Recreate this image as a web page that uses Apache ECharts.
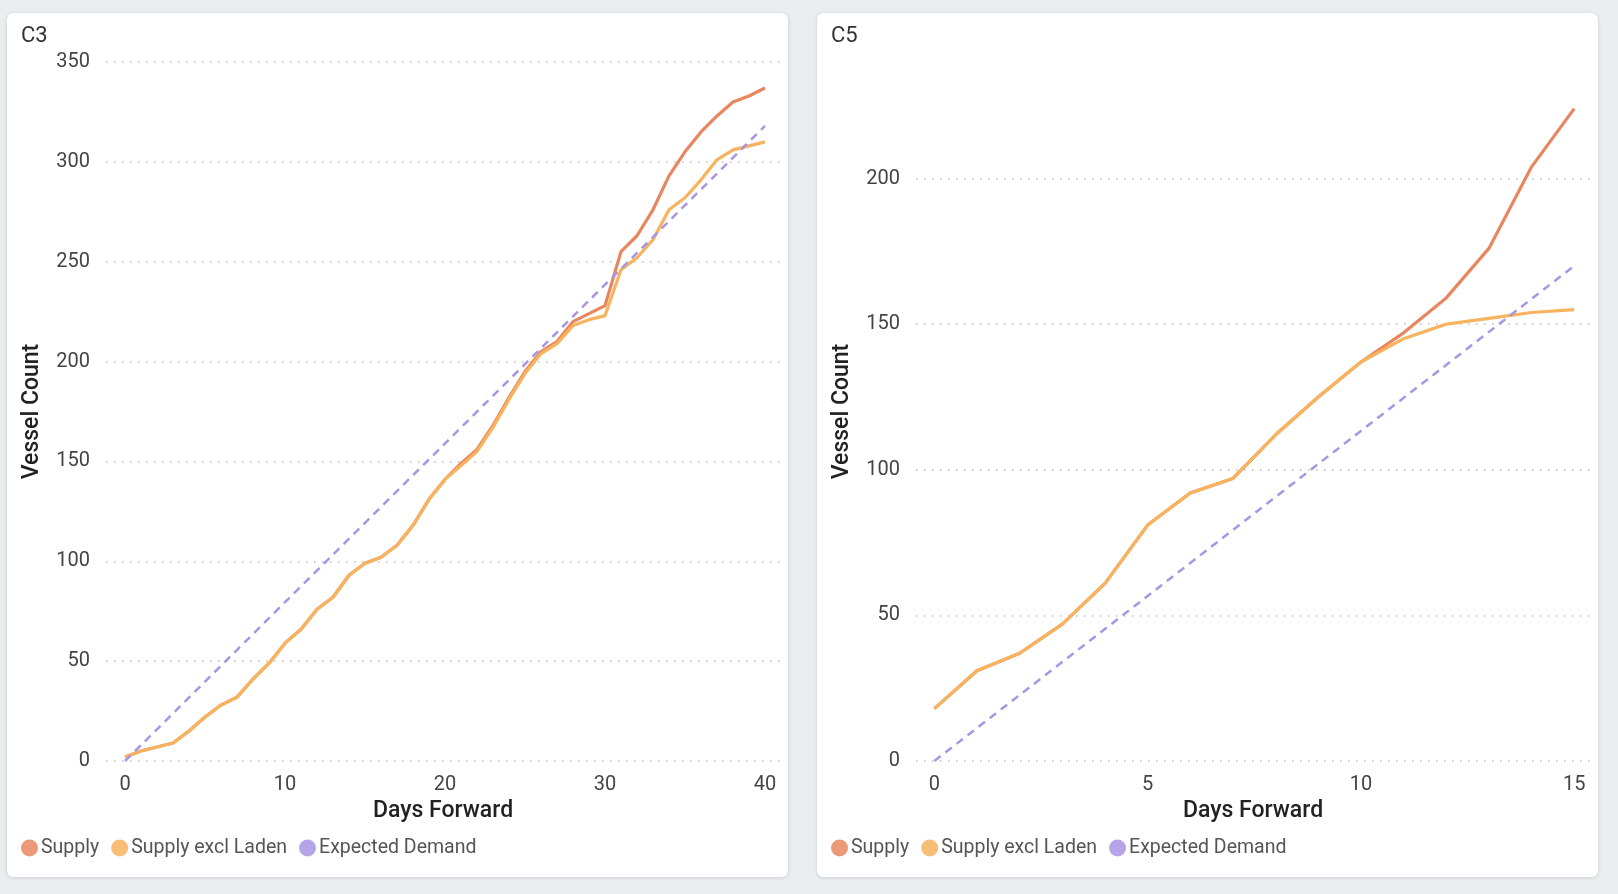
<!DOCTYPE html>
<html>
<head>
<meta charset="utf-8">
<title>Supply vs Demand</title>
<style>
  html, body { margin: 0; padding: 0; width: 1618px; height: 894px; background: #eaedf0; overflow: hidden; }
  .card {
    position: absolute; top: 13px; width: 781px; height: 864px;
    background: #fff; border-radius: 6px;
    box-shadow: 0 1px 4px rgba(0,0,0,0.10), 0 0 1px rgba(0,0,0,0.15);
  }
  #c3 { left: 7px; }
  #c5 { left: 817px; }
</style>
</head>
<body>
<div class="card" id="c3"></div>
<div class="card" id="c5"></div>
<script src="https://cdn.jsdelivr.net/npm/echarts@6/dist/echarts.min.js"></script>
<script>
// ---- C3 data (days 0..40) ----
var c3Days = [0,1,2,3,4,5,6,7,8,9,10,11,12,13,14,15,16,17,18,19,20,
              21,22,23,24,25,26,27,28,29,30,31,32,33,34,35,36,37,38,39,40];
var c3Supply = [2,5,7,9,15,22,28,32,41,49,59,66,76,82,93,99,102,108,118,131,141,
                149,156,168,182,195,205,210,220,224,228,255,263,276,293,305,315,323,330,333,337];
var c3ExclLaden = [2,5,7,9,15,22,28,32,41,49,59,66,76,82,93,99,102,108,118,131,141,
                   148,155,167,181,194,204,209,218,221,223,246,252,261,276,282,291,301,306,308,310];
var c3DemandDays = [0,40];
var c3Demand = [0,318];

// ---- C5 data (days 0..15) ----
var c5Days = [0,1,2,3,4,5,6,7,8,9,10,11,12,13,14,15];
var c5Supply = [18,31,37,47,61,81,92,97,112,125,137,147,159,176,204,224];
var c5ExclLaden = [18,31,37,47,61,81,92,97,112,125,137,145,150,152,154,155];
var c5DemandDays = [0,15];
var c5Demand = [0,170];

var seriesNames = ['Supply', 'Supply excl Laden', 'Expected Demand'];
var colors = ['#E8875F', '#F8B35E', '#A895E4'];
var font = 'Roboto, "Noto Sans", sans-serif';

function pairs(xs, ys) {
  return xs.map(function (x, i) { return [x, ys[i]]; });
}

function buildOption(cfg) {
  return {
    animation: false,
    color: colors,
    textStyle: { fontFamily: font },
    title: {
      text: cfg.title, left: 9, top: 7,
      textStyle: { fontSize: 22, fontWeight: 'normal', color: '#333', fontFamily: font }
    },
    legend: {
      data: seriesNames,
      left: 9, top: 820,
      icon: 'circle', itemWidth: 17, itemHeight: 17, itemGap: 12,
      textStyle: { fontSize: 19.5, color: '#555', fontFamily: font, padding: [0, 0, 0, -2] },
      itemStyle: { opacity: 0.85 }
    },
    grid: { left: 99, right: 8, top: 49, bottom: 116, containLabel: false },
    xAxis: {
      type: 'value',
      min: cfg.xMin, max: cfg.xMax,
      name: 'Days Forward', nameLocation: 'middle', nameGap: 37,
      nameTextStyle: { fontSize: 23, color: '#222', fontWeight: 500, fontFamily: font },
      axisLine: { show: false }, axisTick: { show: false },
      splitLine: { show: false },
      axisLabel: { customValues: cfg.xTicks, fontSize: 20, color: '#444', margin: 14, fontFamily: font }
    },
    yAxis: {
      type: 'value',
      min: 0, max: cfg.yMax, interval: 50,
      name: 'Vessel Count', nameLocation: 'middle', nameGap: 62, nameRotate: 90,
      nameTextStyle: { fontSize: 23, color: '#222', fontWeight: 500, fontFamily: font },
      axisLine: { show: false }, axisTick: { show: false },
      axisLabel: { fontSize: 20, color: '#444', margin: 16, fontFamily: font, showMaxLabel: cfg.showMax },
      splitLine: {
        show: true, showMaxLine: cfg.showMax,
        lineStyle: { color: '#bdbdbd', width: 1.5, type: [1.5, 6.5] }
      }
    },
    series: [
      {
        name: seriesNames[0], type: 'line', symbol: 'none',
        lineStyle: { width: 3.2, color: colors[0] },
        data: pairs(cfg.days, cfg.supply)
      },
      {
        name: seriesNames[1], type: 'line', symbol: 'none',
        lineStyle: { width: 3.2, color: colors[1] },
        data: pairs(cfg.days, cfg.excl)
      },
      {
        name: seriesNames[2], type: 'line', symbol: 'none',
        lineStyle: { width: 2.5, color: colors[2], type: [8, 6] },
        data: pairs(cfg.demandDays, cfg.demand)
      }
    ]
  };
}

var chartC3 = echarts.init(document.getElementById('c3'));
chartC3.setOption(buildOption({
  title: 'C3', xMin: -1.19, xMax: 40.94, xTicks: [0, 10, 20, 30, 40],
  yMax: 350, showMax: true,
  days: c3Days, supply: c3Supply, excl: c3ExclLaden,
  demandDays: c3DemandDays, demand: c3Demand
}));

var chartC5 = echarts.init(document.getElementById('c5'));
chartC5.setOption(buildOption({
  title: 'C5', xMin: -0.43, xMax: 15.37, xTicks: [0, 5, 10, 15],
  yMax: 240, showMax: false,
  days: c5Days, supply: c5Supply, excl: c5ExclLaden,
  demandDays: c5DemandDays, demand: c5Demand
}));
</script>
</body>
</html>
